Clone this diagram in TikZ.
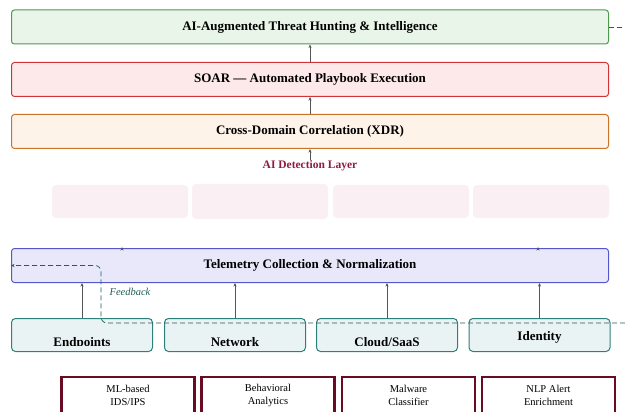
\documentclass[tikz,border=0pt]{standalone}
\usepackage{fontspec}
\setmainfont{Liberation Serif}
\usepackage{tikz}
\usetikzlibrary{arrows.meta, positioning}
\usepackage{xcolor}

\definecolor{huntfill}{HTML}{EAF5E9}
\definecolor{huntline}{HTML}{4E9A4E}
\definecolor{soarfill}{HTML}{FDE9E9}
\definecolor{soarline}{HTML}{D0343A}
\definecolor{xdrfill}{HTML}{FEF3E8}
\definecolor{xdrline}{HTML}{C8732A}
\definecolor{detfill}{HTML}{FAF0F3}
\definecolor{detcolor}{HTML}{8E1A42}
\definecolor{telefill}{HTML}{E8E8FA}
\definecolor{teleline}{HTML}{5555CC}
\definecolor{srcfill}{HTML}{EAF3F3}
\definecolor{srcline}{HTML}{2F7F7A}
\definecolor{ailine}{HTML}{6A0B24}
\definecolor{fbcolor}{HTML}{1F5E5A}
\definecolor{arrowgray}{HTML}{555555}

\tikzset{
  layer/.style={draw, rounded corners=3pt, line width=1pt, minimum width=597pt,
    minimum height=34pt, inner sep=0pt, font=\fontsize{13}{15}\selectfont\bfseries},
  detbox/.style={fill=detfill, rounded corners=4pt, minimum width=136pt,
    minimum height=33pt, inner sep=0pt},
  detlabel/.style={text=detcolor, font=\fontsize{11.5}{13}\selectfont\bfseries, inner sep=1pt},
  srcbox/.style={draw=srcline, fill=srcfill, rounded corners=4pt, line width=1pt,
    minimum width=141pt, minimum height=33pt, inner sep=0pt},
  srclabel/.style={anchor=base, inner sep=0pt, font=\fontsize{13}{15}\selectfont\bfseries},
  aibox/.style={draw=ailine, fill=white, line width=2.4pt, minimum width=133pt,
    minimum height=36pt, align=center, font=\fontsize{10.5}{13}\selectfont},
  flow/.style={->, draw=arrowgray, line width=0.6pt},
  fb/.style={draw=fbcolor, line width=0.7pt, dash pattern=on 5pt off 3pt},
  fbtext/.style={text=fbcolor, font=\fontsize{10.5}{12}\selectfont\itshape}
}

\begin{document}
\begin{tikzpicture}[x=1pt, y=-1pt, >={Stealth[length=3.5pt, width=3pt]}]
    \useasboundingbox (0,0) rectangle (625,412);
    % Camadas superiores
    \node[layer, draw=huntline, fill=huntfill] (hunt) at (310,27) {AI-Augmented Threat Hunting \& Intelligence};
    \node[layer, draw=soarline, fill=soarfill] (soar) at (310,79.5) {SOAR --- Automated Playbook Execution};
    \node[layer, draw=xdrline, fill=xdrfill] (xdr) at (310,131.5) {Cross-Domain Correlation (XDR)};
    \draw[flow] (soar.north) -- (hunt.south);
    \draw[flow] (xdr.north) -- (soar.south);
    % Camada de detecao
    \node[detlabel] (detlabel) at (310,166) {AI Detection Layer};
    \draw[flow] (detlabel.north) -- (xdr.south);
    \node[detbox] (det1) at (120,201.5) {};
    \node[detbox, minimum height=35pt] (det2) at (260,201.5) {};
    \node[detbox] (det3) at (401,201.5) {};
    \node[detbox] (det4) at (541,201.5) {};
    % Telemetria
    \node[layer, draw=teleline, fill=telefill] (tele) at (310,265.5) {Telemetry Collection \& Normalization};
    \coordinate (stub1) at (122,248.5);
    \coordinate (stub2) at (538,248.5);
    \draw[flow] (stub1) -- ++(0,-1.5);
    \draw[flow] (stub2) -- ++(0,-1.5);
    % Fontes
    \node[srcbox] (src1) at (82,335) {};
    \node[srcbox] (src2) at (235,335) {};
    \node[srcbox] (src3) at (387,335) {};
    \node[srcbox] (src4) at (539.5,335) {};
    \begin{scope}
        \clip (0,300) rectangle (625,345.5);
        \node[srclabel] (lbl1) at (82,346.5) {Endpoints};
        \node[srclabel] (lbl2) at (235,346.5) {Network};
        \node[srclabel] (lbl3) at (387,346.5) {Cloud/SaaS};
    \end{scope}
    \node[srclabel] (lbl4) at (539.5,340.5) {Identity};
    \foreach \i in {1,...,4}
        \draw[flow] (src\i.north) -- (src\i.north |- tele.south);
    % Realimentacao
    \coordinate (fbout) at (625,27);
    \coordinate (fbin) at (625,323);
    \draw[fb] (hunt.east) -- (fbout);
    \draw[fb, ->, rounded corners=6pt] (fbin) -| (101,265.5) -- (tele.west);
    \node[fbtext] (fblabel) at (130,292) {Feedback};
    % Modelos de IA
    \node[aibox] (ai1) at (128,395) {ML-based\\IDS/IPS};
    \node[aibox] (ai2) at (268,395) {Behavioral\\Analytics};
    \node[aibox] (ai3) at (408.5,395) {Malware\\Classifier};
    \node[aibox] (ai4) at (548.5,395) {NLP Alert\\Enrichment};
\end{tikzpicture}
\end{document}
